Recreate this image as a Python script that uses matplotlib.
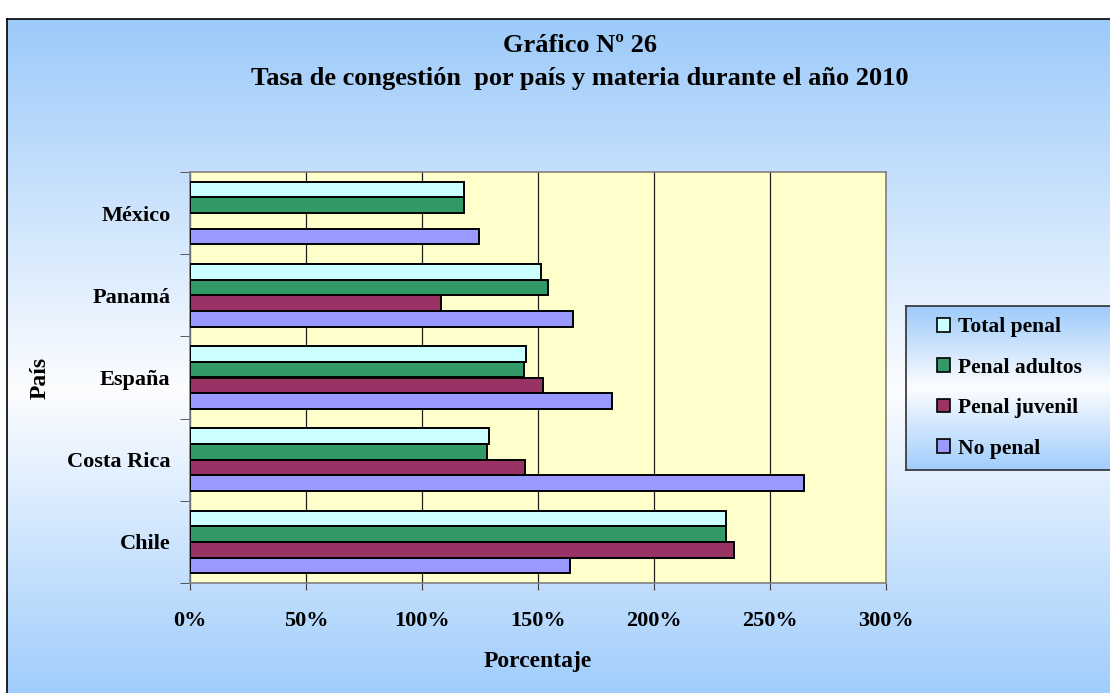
import numpy as np
import matplotlib.pyplot as plt
from matplotlib.patches import Patch

# data (percent)
countries = ['México', 'Panamá', 'España', 'Costa Rica', 'Chile']
series = ['Total penal', 'Penal adultos', 'Penal juvenil', 'No penal']
total_penal = [118, 151.5, 145, 129, 231]
penal_adultos = [118, 154.5, 144, 128, 231]
penal_juvenil = [np.nan, 108, 152, 144.5, 234.5]
no_penal = [124.5, 165, 182, 264.5, 164]
colors = ['#CCFFFF', '#339966', '#993366', '#9999FF']

plt.rcParams['font.family'] = ['Liberation Serif', 'DejaVu Serif']
plt.rcParams['font.weight'] = 'bold'

W, H = 1110, 693
fig = plt.figure(figsize=(W / 100, H / 100), dpi=100)


def px_axes(x0, y0, x1, y1, **kw):
    # axes from pixel box (top-left origin)
    return fig.add_axes([x0 / W, 1 - y1 / H, (x1 - x0) / W, (y1 - y0) / H], **kw)


def gradient(ax, top, mid, bottom, midpos=0.5):
    t = np.linspace(0, 1, 256)[:, None, None]
    top, mid, bottom = [np.array(c) / 255 for c in (top, mid, bottom)]
    upper = top + (mid - top) * (t / midpos)
    lower = mid + (bottom - mid) * ((t - midpos) / (1 - midpos))
    img = np.where(t < midpos, upper, lower)
    img = np.repeat(img, 2, axis=1)
    ax.imshow(img, aspect='auto', extent=[0, 1, 0, 1], zorder=0)
    ax.set_xlim(0, 1)
    ax.set_ylim(0, 1)
    ax.set_xticks([])
    ax.set_yticks([])


# chart area background (blue -> white -> blue), cut by image edge
bg = px_axes(7, 19, W + 2, H + 2)
bg.set_zorder(-5)
gradient(bg, (156, 202, 250), (252, 253, 255), (160, 205, 252), midpos=0.55)
for s in ['right', 'bottom']:
    bg.spines[s].set_visible(False)
for s in ['left', 'top']:
    bg.spines[s].set_linewidth(1.2)

# plot area
ax = px_axes(190, 172, 886, 583)
ax.set_facecolor('#FFFFCC')
ax.set_zorder(1)
h = 0.19
y = np.arange(len(countries))
for j, (vals, c) in enumerate(zip([total_penal, penal_adultos, penal_juvenil, no_penal], colors)):
    ax.barh(y + (j - 1.5) * h, vals, height=h, color=c, edgecolor='black',
            linewidth=1.4, zorder=3)

ax.set_xlim(0, 300)
ax.set_ylim(len(countries) - 0.5, -0.5)
ax.set_xticks(range(0, 301, 50))
ax.set_xticklabels([f'{v}%' for v in range(0, 301, 50)], fontsize=16, fontweight='bold')
ax.tick_params(axis='x', length=5, pad=15, color='#404040')
ax.set_yticks(y)
ax.set_yticklabels(countries, fontsize=16, fontweight='bold')
ax.tick_params(axis='y', which='major', length=0, pad=14)
ax.set_yticks(np.arange(-0.5, len(countries)), minor=True)
ax.tick_params(axis='y', which='minor', length=7, color='#404040')
ax.grid(axis='x', color='#202020', linewidth=0.9, zorder=0)
ax.set_axisbelow(True)
for s in ax.spines.values():
    s.set_color('#808080')
    s.set_linewidth(1.2)

fig.text(538 / W, 1 - 662 / H, 'Porcentaje', ha='center', va='center',
         fontsize=17, fontweight='bold')
fig.text(40 / W, 1 - 378 / H, 'País', ha='center', va='center', rotation=90,
         fontsize=17, fontweight='bold')

fig.text(580 / W, 1 - 45 / H, 'Gráfico Nº 26', ha='center', va='center',
         fontsize=19, fontweight='bold')
fig.text(580 / W, 1 - 78 / H, 'Tasa de congestión  por país y materia durante el año 2010',
         ha='center', va='center', fontsize=19, fontweight='bold')

# legend box
lax = px_axes(906, 306, W + 2, 470)
lax.set_zorder(2)
gradient(lax, (156, 202, 250), (252, 253, 255), (160, 205, 252), midpos=0.5)
lax.spines['right'].set_visible(False)
for s in ['left', 'top', 'bottom']:
    lax.spines[s].set_color('#303030')
    lax.spines[s].set_linewidth(1.2)
handles = [Patch(facecolor=c, edgecolor='black', linewidth=1.2) for c in colors]
lax.legend(handles, series, loc='center left', bbox_to_anchor=(0.11, 0.5),
           frameon=False, prop={'weight': 'bold', 'size': 15.5},
           handlelength=0.6, handleheight=0.6, handletextpad=0.35,
           labelspacing=0.95, borderaxespad=0)

fig.savefig('out.png', dpi=100)
